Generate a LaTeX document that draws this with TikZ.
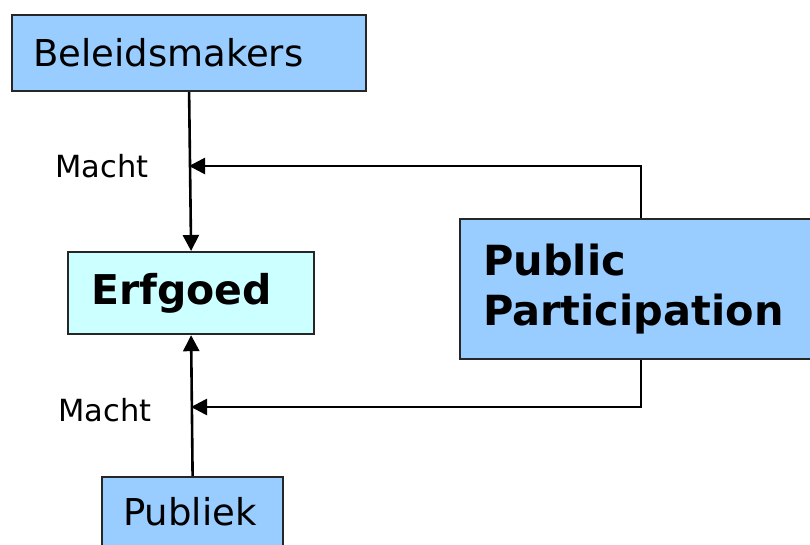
\documentclass[tikz,border=0pt]{standalone}
\usepackage{fontspec}
\setmainfont{DejaVu Sans}
\usetikzlibrary{arrows.meta}
\definecolor{boxblue}{HTML}{99CCFF}
\definecolor{boxcyan}{HTML}{CCFFFF}
\begin{document}
\begin{tikzpicture}[x=1pt, y=-1pt,
		actor/.style={draw=black!85, line width=2.2pt, fill=boxblue, align=left, inner xsep=21pt, inner ysep=0pt},
		centre/.style={draw=black!85, line width=2.2pt, fill=boxcyan, align=left, inner xsep=23pt, inner ysep=0pt},
		arr/.style={line width=2.6pt, -{Triangle[length=16pt, width=16pt]}},
		lbl/.style={font=\fontsize{30.5}{37}\selectfont, inner sep=0pt}]
			%%%%% START %%%%%
			\useasboundingbox (0, 0) rectangle (810, 545);
			\clip (0, 0) rectangle (810, 545);
			
			\node[actor, anchor=north west, text width=312pt, minimum height=76pt, font=\fontsize{37}{44}\selectfont] (beleid) at (11, 14) {Beleidsmakers};
			\node[centre, anchor=north west, text width=200pt, minimum height=82pt, font=\bfseries\fontsize{41}{49}\selectfont] (erfgoed) at (67, 251) {Erfgoed};
			\node[actor, anchor=north west, text width=139pt, inner ysep=20pt, text depth=70pt, font=\fontsize{37}{44}\selectfont] (publiek) at (101, 476) {Publiek};
			\node[actor, anchor=north west, inner xsep=23pt, text width=316pt, minimum height=140pt, font=\bfseries\fontsize{41.5}{50}\selectfont] (pp) at (459, 218) {Public\\Participation};
			
			\coordinate (upperHit) at (189, 166);
			\coordinate (lowerHit) at (191, 407);
			
			\node[lbl] (machtUp) at (102, 166) {Macht};
			\node[lbl] (machtDown) at (105, 410) {Macht};
			
			\draw[arr] (beleid.south) -- (erfgoed.north);
			\draw[arr] (publiek.north) -- (erfgoed.south);
			\draw[arr] (pp.north) |- (upperHit);
			\draw[arr] (pp.south) |- (lowerHit);
			%%%%% END %%%%%
		\end{tikzpicture}
\end{document}
